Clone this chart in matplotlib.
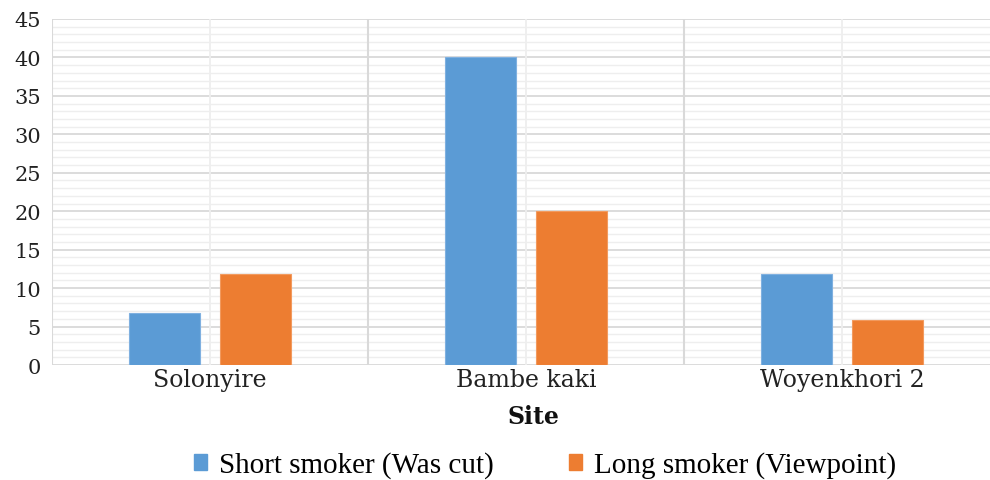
import matplotlib
matplotlib.use("Agg")
import matplotlib.pyplot as plt
from matplotlib.patches import Patch
import numpy as np

sites = ["Solonyire", "Bambe kaki", "Woyenkhori 2"]
short_smoker = [6.7, 40, 11.8]
long_smoker = [11.8, 20, 5.8]
series_names = ["Short smoker (Was cut)", "Long smoker (Viewpoint)"]
yticks = [0, 5, 10, 15, 20, 25, 30, 35, 40, 45]

blue = "#5B9BD5"
orange = "#ED7D31"
wide = ["DejaVu Serif"]
narrow = ["Liberation Serif", "DejaVu Serif"]

fig = plt.figure(figsize=(9.9, 4.81), dpi=100)
ax = fig.add_axes([52/990, 1-366/481, 948/990, 346/481])

x = np.arange(len(sites))
w = 0.225
off = 0.143

# grid
for v in np.arange(0, 46, 1):
    if v % 5 == 0:
        ax.axhline(v, color="#d9d9d9", lw=1.3, zorder=0)
    else:
        ax.axhline(v, color="#eeeeee", lw=1.0, zorder=0)
for xc in x:
    ax.axvline(xc, color="#eeeeee", lw=1.3, zorder=0)
for xb in np.arange(-0.5, len(sites), 1.0):
    ax.axvline(xb, color="#d9d9d9", lw=1.5, zorder=0)

ax.bar(x - off, short_smoker, width=w, color=blue, edgecolor="#7fb0e0", lw=0.8, zorder=2)
ax.bar(x + off, long_smoker, width=w, color=orange, edgecolor="#f29a5e", lw=0.8, zorder=2)

ax.set_xlim(-0.5, 2.5)
ax.set_ylim(0, 45)
ax.set_yticks(yticks)
ax.set_yticklabels([str(t) for t in yticks], fontfamily=wide, fontsize=15, color="#222222")
ax.set_xticks(x)
ax.set_xticklabels(sites, fontfamily=wide, fontsize=17, color="#222222")
ax.tick_params(axis="both", length=0)
ax.tick_params(axis="y", pad=8)
ax.tick_params(axis="x", pad=2)
for s in ax.spines.values():
    s.set_visible(False)

fig.text(533/990, 1-417/481, "Site", ha="center", va="center", fontfamily=wide,
         fontsize=17, fontweight="bold", color="#111111")

handles = [Patch(facecolor=blue, edgecolor=blue), Patch(facecolor=orange, edgecolor=orange)]
fig.legend(handles, series_names, loc="center", bbox_to_anchor=(545/990, 1-466/481),
           ncol=2, frameon=False, prop={"family": narrow, "size": 21},
           handlelength=0.45, handleheight=0.45, handletextpad=0.4, columnspacing=2.6)

fig.savefig("out.png", dpi=100)
